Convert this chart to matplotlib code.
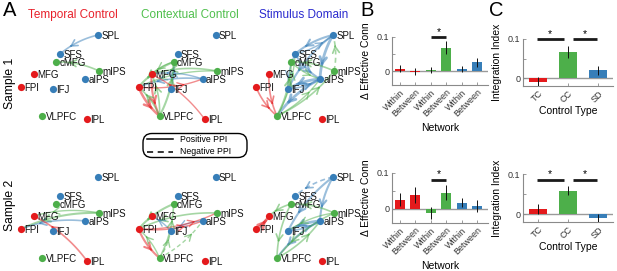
import numpy as np
import matplotlib
matplotlib.use("Agg")
import matplotlib.pyplot as plt
from matplotlib.patches import FancyBboxPatch

plt.rcParams['font.family'] = ['Liberation Sans', 'DejaVu Sans']

# ---------------- data ----------------
node_names = ["SPL", "SFS", "cMFG", "MFG", "mIPS", "aIPS", "FPI", "IFJ", "VLPFC", "IPL"]
node_x = [98, 60, 56, 34, 99, 85, 21, 53, 42, 87]
node_y = [35, 54, 62, 74, 71, 79, 87, 89, 116, 119]
node_group = ["SD", "SD", "CC", "TC", "CC", "SD", "TC", "SD", "CC", "TC"]

panel_titles = ["Temporal Control", "Contextual Control", "Stimulus Domain"]
sample_labels = ["Sample 1", "Sample 2"]

# edges: (source, target, weight, negative)
edges_tc1 = [("SPL", "SFS", 1.2, False), ("mIPS", "cMFG", 1.2, False)]
edges_cc1 = [("cMFG", "FPI", 1.5, False), ("cMFG", "MFG", 1.0, False),
             ("mIPS", "MFG", 1.2, False), ("mIPS", "FPI", 1.0, False),
             ("aIPS", "FPI", 1.2, False), ("aIPS", "MFG", 1.0, False),
             ("IFJ", "cMFG", 1.0, False), ("FPI", "VLPFC", 1.8, False),
             ("MFG", "VLPFC", 1.5, False), ("VLPFC", "cMFG", 1.5, False),
             ("VLPFC", "MFG", 1.2, False), ("IPL", "MFG", 1.0, False),
             ("FPI", "aIPS", 1.0, False), ("VLPFC", "FPI", 1.2, False)]
edges_sd1 = [("SPL", "SFS", 1.5, False), ("SFS", "SPL", 1.0, False),
             ("SPL", "aIPS", 2.0, False), ("SPL", "IFJ", 1.5, False),
             ("SFS", "aIPS", 1.5, False), ("aIPS", "IFJ", 2.0, False),
             ("aIPS", "VLPFC", 2.0, False), ("IFJ", "aIPS", 1.2, False),
             ("SFS", "IFJ", 1.0, False), ("mIPS", "SPL", 1.2, True),
             ("mIPS", "cMFG", 1.2, False), ("VLPFC", "cMFG", 1.5, False),
             ("VLPFC", "SFS", 1.0, False), ("VLPFC", "mIPS", 1.2, False),
             ("VLPFC", "aIPS", 1.0, False), ("cMFG", "aIPS", 1.0, False),
             ("MFG", "VLPFC", 1.2, False), ("FPI", "VLPFC", 1.2, False)]
edges_tc2 = [("mIPS", "FPI", 1.5, False), ("mIPS", "MFG", 1.0, False),
             ("aIPS", "FPI", 1.2, False), ("IPL", "MFG", 1.2, False)]
edges_cc2 = [("cMFG", "FPI", 1.5, False), ("mIPS", "FPI", 1.2, False),
             ("aIPS", "IFJ", 1.0, False), ("IFJ", "MFG", 1.0, False),
             ("FPI", "VLPFC", 1.5, False), ("FPI", "mIPS", 1.0, False),
             ("FPI", "aIPS", 1.0, False), ("VLPFC", "cMFG", 1.2, False),
             ("VLPFC", "IFJ", 1.0, True), ("VLPFC", "aIPS", 1.0, True),
             ("VLPFC", "FPI", 1.0, False)]
edges_sd2 = [("SPL", "SFS", 1.2, True), ("SPL", "aIPS", 1.5, False),
             ("SPL", "IFJ", 1.5, False), ("aIPS", "IFJ", 2.0, False),
             ("aIPS", "VLPFC", 1.5, False), ("IFJ", "aIPS", 1.2, False),
             ("cMFG", "MFG", 1.2, False), ("cMFG", "VLPFC", 1.2, False),
             ("mIPS", "cMFG", 1.2, False), ("mIPS", "VLPFC", 1.2, False),
             ("VLPFC", "aIPS", 1.2, False), ("FPI", "MFG", 2.0, False),
             ("mIPS", "IFJ", 1.0, False)]
edge_sets = [[edges_tc1, edges_cc1, edges_sd1], [edges_tc2, edges_cc2, edges_sd2]]

net_categories = ["Within", "Between", "Within", "Between", "Within", "Between"]
net_groups = ["TC", "TC", "CC", "CC", "SD", "SD"]
net_s1 = [0.008, -0.001, 0.003, 0.068, 0.006, 0.026]
net_s1_err = [0.010, 0.010, 0.009, 0.019, 0.009, 0.013]
net_s2 = [0.025, 0.039, -0.013, 0.044, 0.017, 0.008]
net_s2_err = [0.018, 0.022, 0.017, 0.021, 0.012, 0.017]

ctrl_types = ["TC", "CC", "SD"]
int_s1 = [-0.010, 0.066, 0.020]
int_s1_err = [0.012, 0.015, 0.011]
int_s2 = [0.013, 0.058, -0.010]
int_s2_err = [0.013, 0.011, 0.011]

group_colors = {"TC": "#E41A1C", "CC": "#4DAF4A", "SD": "#377EB8"}
title_colors = ["#E8202A", "#4FBF4C", "#2A2ACF"]

# ---------------- figure ----------------
W, H = 617, 271
fig = plt.figure(figsize=(W / 100, H / 100), dpi=100)


def px_axes(x0, y0, w, h):
    return fig.add_axes([x0 / W, 1 - (y0 + h) / H, w / W, h / H])


pos = {n: np.array([x, y], float) for n, x, y in zip(node_names, node_x, node_y)}
col = {n: group_colors[g] for n, g in zip(node_names, node_group)}


def draw_edge(ax, s, t, w, neg, rad=0.12):
    p0, p2 = pos[s], pos[t]
    d = p2 - p0
    L = np.hypot(*d)
    perp = np.array([-d[1], d[0]]) / L
    p1 = (p0 + p2) / 2 + perp * rad * L
    ts = np.linspace(0, 1, 40)
    pts = ((1 - ts)[:, None] ** 2) * p0 + (2 * (1 - ts) * ts)[:, None] * p1 + (ts[:, None] ** 2) * p2
    c = col[s]
    ax.plot(pts[:, 0], pts[:, 1], color=c, alpha=0.5, lw=w,
            ls=(0, (3, 2)) if neg else '-', solid_capstyle='round', zorder=2)
    ta = 0.72
    def B(tt):
        return (1 - tt) ** 2 * p0 + 2 * (1 - tt) * tt * p1 + tt ** 2 * p2
    a, b = B(ta - 0.03), B(ta)
    ax.annotate('', xy=b, xytext=a,
                arrowprops=dict(arrowstyle='->,head_length=0.55,head_width=0.3',
                                color=c, alpha=0.55, lw=w, shrinkA=0, shrinkB=0,
                                mutation_scale=8), zorder=2)


col_off = [0, 117.5, 235]
row_off = [0, 142]
for r in range(2):
    for c in range(3):
        ax = px_axes(col_off[c], row_off[r], 117.5, 129)
        ax.set_xlim(0, 117.5)
        ax.set_ylim(129, 0)
        ax.axis('off')
        for (s, t, w, neg) in edge_sets[r][c]:
            draw_edge(ax, s, t, w, neg)
        for n in node_names:
            ax.plot(pos[n][0], pos[n][1], 'o', ms=5.2, color=col[n], mec='none', zorder=4, clip_on=False)
            ax.text(pos[n][0] + 3.5, pos[n][1] + 1.2, n, fontsize=7, ha='left', va='center',
                    color='#111111', zorder=5, clip_on=False)

# titles and labels
title_x = [73, 190, 304]
for tx, tt, tc in zip(title_x, panel_titles, title_colors):
    fig.text(tx / W, 1 - 15 / H, tt, color=tc, fontsize=8.5, ha='center', va='center')
fig.text(10 / W, 1 - 83 / H, sample_labels[0], rotation=90, fontsize=8.7, ha='center', va='center')
fig.text(10 / W, 1 - 205 / H, sample_labels[1], rotation=90, fontsize=8.7, ha='center', va='center')
for lx, lab in [(3, "A"), (360, "B"), (489, "C")]:
    fig.text(lx / W, 1 - 11 / H, lab, fontsize=14.5, ha='left', va='center')

# legend box
lax = px_axes(140, 130, 112, 32)
lax.set_xlim(0, 112)
lax.set_ylim(32, 0)
lax.axis('off')
lax.add_patch(FancyBboxPatch((3, 3.5), 104, 24, boxstyle="round,pad=0,rounding_size=9",
                             fc='white', ec='black', lw=1.0, clip_on=False))
lax.plot([7, 33], [9, 9], color='black', lw=1.1)
lax.plot([7, 33], [22, 22], color='black', lw=1.1, ls=(0, (4, 3)))
lax.text(40, 9, "Positive PPI", fontsize=6.3, va='center', ha='left')
lax.text(40, 22, "Negative PPI", fontsize=6.3, va='center', ha='left')


def style_bar_ax(ax, ylim):
    ax.set_ylim(*ylim)
    for sp in ['top', 'right']:
        ax.spines[sp].set_visible(False)
    for sp in ['left', 'bottom']:
        ax.spines[sp].set_color('#8a8a8a')
        ax.spines[sp].set_linewidth(0.8)
    ax.axhline(0, color='#9a9a9a', lw=1.0, zorder=1)
    ax.set_yticks([0, 0.05, 0.1])
    ax.set_yticklabels(['0', '', '0.1'])
    ax.tick_params(direction='in', length=2, width=0.6, color='#8a8a8a',
                   labelsize=6.5, labelcolor='#333333', pad=2)
    ax.patch.set_alpha(0)


def sig(ax, x1, x2, y, ys):
    ax.plot([x1, x2], [y, y], color='#1a1a1a', lw=2, clip_on=False, solid_capstyle='butt')
    ax.text((x1 + x2) / 2, ys, '*', ha='center', va='center', fontsize=7.5, clip_on=False)


# B panels
b_specs = [(37, 48, net_s1, net_s1_err, (3, 4, 0.1, 0.115)),
           (173, 50, net_s2, net_s2_err, (3, 4, 0.08, 0.098))]
for (y0, h, vals, errs, sg) in b_specs:
    ax = px_axes(392, y0, 96, h)
    x = np.arange(1, len(vals) + 1)
    ax.bar(x, vals, width=0.65, color=[group_colors[g] for g in net_groups], zorder=2)
    ax.errorbar(x, vals, yerr=errs, fmt='none', ecolor='#111111', elinewidth=0.7, capsize=0, zorder=3)
    ax.set_xlim(0.48, 6.72)
    style_bar_ax(ax, (-0.04, 0.1))
    ax.set_xticks(x)
    ax.set_xticklabels(net_categories, rotation=45, ha='right', rotation_mode='anchor', fontsize=6.5)
    ax.set_ylabel("\u0394 Effective Conn", fontsize=7.5, labelpad=4)
    ax.set_xlabel("Network", fontsize=7.5, labelpad=3)
    sig(ax, *sg)

# C panels
c_specs = [(39, 47, int_s1, int_s1_err, 0.1, 0.113),
           (174, 48, int_s2, int_s2_err, 0.085, 0.1)]
for (y0, h, vals, errs, sy, ss) in c_specs:
    ax = px_axes(523, y0, 90, h)
    x = np.arange(1, len(vals) + 1)
    ax.bar(x, vals, width=0.6, color=[group_colors[g] for g in ctrl_types], zorder=2)
    ax.errorbar(x, vals, yerr=errs, fmt='none', ecolor='#111111', elinewidth=0.7, capsize=0, zorder=3)
    ax.set_xlim(0.5, 3.5)
    style_bar_ax(ax, (-0.02, 0.1))
    ax.set_xticks(x)
    ax.set_xticklabels(ctrl_types, rotation=45, ha='right', rotation_mode='anchor', fontsize=6.5)
    ax.set_ylabel("Integration Index", fontsize=7.5, labelpad=4)
    ax.set_xlabel("Control Type", fontsize=7.5, labelpad=1)
    sig(ax, 0.95, 1.85, sy, ss)
    sig(ax, 2.15, 2.95, sy, ss)

fig.savefig("out.png", dpi=100)
